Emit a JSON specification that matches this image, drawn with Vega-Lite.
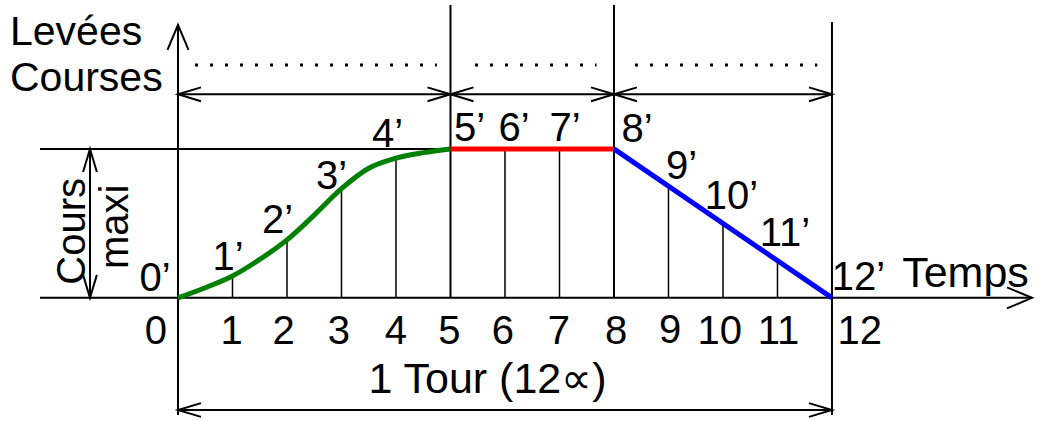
{
  "$schema": "https://vega.github.io/schema/vega-lite/v6.json",
  "width": 1040,
  "height": 421,
  "padding": 0,
  "autosize": {"type": "fit", "contains": "padding"},
  "background": "white",
  "config": {"view": {"stroke": null}},
  "datasets": {
    "frame": [
      {"x": 0, "y": -0.787, "x2": 0, "y2": 1.833},
      {"x": -2.532, "y": 0, "x2": 15.67, "y2": 0},
      {"x": -2.532, "y": 1, "x2": 5, "y2": 1},
      {"x": 5, "y": 0, "x2": 5, "y2": 1.967},
      {"x": 8, "y": 0, "x2": 8, "y2": 1.967},
      {"x": 12, "y": -0.787, "x2": 12, "y2": 1.853},
      {"x": 0, "y": 1.367, "x2": 5, "y2": 1.367},
      {"x": 5, "y": 1.367, "x2": 8, "y2": 1.367},
      {"x": 8, "y": 1.367, "x2": 12, "y2": 1.367},
      {"x": 0, "y": -0.753, "x2": 12, "y2": -0.753},
      {"x": -1.615, "y": 0, "x2": -1.615, "y2": 1}
    ],
    "dots": [
      {"x": 0.312, "x2": 4.75, "y": 1.5633},
      {"x": 5.45, "x2": 7.68, "y": 1.5633},
      {"x": 8.385, "x2": 11.73, "y": 1.5633}
    ],
    "ticks": [
      {"x": 1, "y": 0.147},
      {"x": 2, "y": 0.389},
      {"x": 3, "y": 0.733},
      {"x": 4, "y": 0.938},
      {"x": 6, "y": 1},
      {"x": 7, "y": 1},
      {"x": 9, "y": 0.75},
      {"x": 10, "y": 0.5},
      {"x": 11, "y": 0.25}
    ],
    "profile": [
      {"x": 0, "y": 0, "phase": "montée"},
      {"x": 0.5, "y": 0.068, "phase": "montée"},
      {"x": 1, "y": 0.147, "phase": "montée"},
      {"x": 1.5, "y": 0.258, "phase": "montée"},
      {"x": 2, "y": 0.389, "phase": "montée"},
      {"x": 2.5, "y": 0.556, "phase": "montée"},
      {"x": 3, "y": 0.733, "phase": "montée"},
      {"x": 3.5, "y": 0.87, "phase": "montée"},
      {"x": 4, "y": 0.938, "phase": "montée"},
      {"x": 4.5, "y": 0.975, "phase": "montée"},
      {"x": 5, "y": 1, "phase": "montée"},
      {"x": 5, "y": 1, "phase": "repos"},
      {"x": 8, "y": 1, "phase": "repos"},
      {"x": 8, "y": 1, "phase": "descente"},
      {"x": 12, "y": 0, "phase": "descente"}
    ],
    "arrows": [
      {"x": 0, "y": 1.367, "dir": 180},
      {"x": 5, "y": 1.367, "dir": 0},
      {"x": 5, "y": 1.367, "dir": 180},
      {"x": 8, "y": 1.367, "dir": 0},
      {"x": 8, "y": 1.367, "dir": 180},
      {"x": 12, "y": 1.367, "dir": 0},
      {"x": 0, "y": -0.753, "dir": 180},
      {"x": 12, "y": -0.753, "dir": 0},
      {"x": -1.615, "y": 1, "dir": 270},
      {"x": -1.615, "y": 0, "dir": 90}
    ],
    "bigarrows": [
      {"x": 0, "y": 1.833, "dir": 270},
      {"x": 15.67, "y": 0, "dir": 0}
    ],
    "labels": [
      {"text": "0’", "x": -0.422, "y": 0.047},
      {"text": "1’", "x": 0.917, "y": 0.187},
      {"text": "2’", "x": 1.826, "y": 0.433},
      {"text": "3’", "x": 2.817, "y": 0.733},
      {"text": "4’", "x": 3.844, "y": 1.013},
      {"text": "5’", "x": 5.349, "y": 1.053},
      {"text": "6’", "x": 6.165, "y": 1.053},
      {"text": "7’", "x": 7.101, "y": 1.053},
      {"text": "8’", "x": 8.422, "y": 1.047},
      {"text": "9’", "x": 9.239, "y": 0.8},
      {"text": "10’", "x": 10.156, "y": 0.6},
      {"text": "11’", "x": 11.138, "y": 0.347},
      {"text": "12’", "x": 12.486, "y": 0.053},
      {"text": "0", "x": -0.404, "y": -0.307},
      {"text": "1", "x": 0.983, "y": -0.307},
      {"text": "2", "x": 1.94, "y": -0.313},
      {"text": "3", "x": 2.95, "y": -0.313},
      {"text": "4", "x": 4.0, "y": -0.307},
      {"text": "5", "x": 4.98, "y": -0.307},
      {"text": "6", "x": 5.96, "y": -0.313},
      {"text": "7", "x": 6.99, "y": -0.313},
      {"text": "8", "x": 8.04, "y": -0.313},
      {"text": "9", "x": 9.03, "y": -0.3},
      {"text": "10", "x": 9.94, "y": -0.313},
      {"text": "11", "x": 11.02, "y": -0.313},
      {"text": "12", "x": 12.51, "y": -0.307}
    ],
    "biglabels": [
      {"text": "Temps", "x": 14.45, "y": 0.073},
      {"text": "1 Tour (12∝)", "x": 5.679, "y": -0.64}
    ],
    "leftlabels": [
      {"text": "Levées", "x": -3.083, "y": 1.7},
      {"text": "Courses", "x": -3.083, "y": 1.387}
    ],
    "vlabels": [
      {"text": "Cours", "x": -1.706, "y": 0.447},
      {"text": "maxi", "x": -0.917, "y": 0.477}
    ]
  },
  "encoding": {
    "x": {"field": "x", "type": "quantitative", "scale": {"domain": [-3.266, 15.817], "nice": false, "zero": false}, "axis": null},
    "y": {"field": "y", "type": "quantitative", "scale": {"domain": [-0.8067, 2.0], "nice": false, "zero": false}, "axis": null}
  },
  "layer": [
    {
      "data": {"name": "frame"},
      "mark": {"type": "rule", "color": "black", "strokeWidth": 2},
      "encoding": {"x2": {"field": "x2"}, "y2": {"field": "y2"}}
    },
    {
      "data": {"name": "dots"},
      "mark": {"type": "rule", "color": "black", "strokeWidth": 3, "strokeDash": [3, 12]},
      "encoding": {"x2": {"field": "x2"}}
    },
    {
      "data": {"name": "ticks"},
      "mark": {"type": "rule", "color": "black", "strokeWidth": 1.5},
      "encoding": {"y2": {"datum": 0}}
    },
    {
      "data": {"name": "profile"},
      "mark": {"type": "line", "strokeWidth": 5, "interpolate": "monotone", "strokeCap": "butt"},
      "encoding": {
        "color": {"field": "phase", "type": "nominal", "scale": {"domain": ["montée", "repos", "descente"], "range": ["#008000", "#ff0000", "#0000ff"]}, "legend": null}
      }
    },
    {
      "data": {"name": "arrows"},
      "mark": {"type": "point", "shape": "M-1,-0.3L0,0L-1,0.3", "filled": false, "color": "black", "stroke": "black", "strokeWidth": 2, "opacity": 1, "size": 2116},
      "encoding": {"angle": {"field": "dir", "type": "quantitative", "scale": null}}
    },
    {
      "data": {"name": "bigarrows"},
      "mark": {"type": "point", "shape": "M-1,-0.42L0,0L-1,0.42", "filled": false, "color": "black", "stroke": "black", "strokeWidth": 2, "opacity": 1, "size": 2500},
      "encoding": {"angle": {"field": "dir", "type": "quantitative", "scale": null}}
    },
    {
      "data": {"name": "labels"},
      "mark": {"type": "text", "font": "Liberation Sans", "fontSize": 40, "color": "black", "align": "center", "baseline": "alphabetic"},
      "encoding": {"text": {"field": "text"}}
    },
    {
      "data": {"name": "biglabels"},
      "mark": {"type": "text", "font": "Liberation Sans", "fontSize": 43, "color": "black", "align": "center", "baseline": "alphabetic"},
      "encoding": {"text": {"field": "text"}}
    },
    {
      "data": {"name": "leftlabels"},
      "mark": {"type": "text", "font": "Liberation Sans", "fontSize": 41, "color": "black", "align": "left", "baseline": "alphabetic"},
      "encoding": {"text": {"field": "text"}}
    },
    {
      "data": {"name": "vlabels"},
      "mark": {"type": "text", "font": "Liberation Sans", "fontSize": 40, "color": "black", "align": "center", "baseline": "alphabetic", "angle": 270},
      "encoding": {"text": {"field": "text"}}
    }
  ]
}
